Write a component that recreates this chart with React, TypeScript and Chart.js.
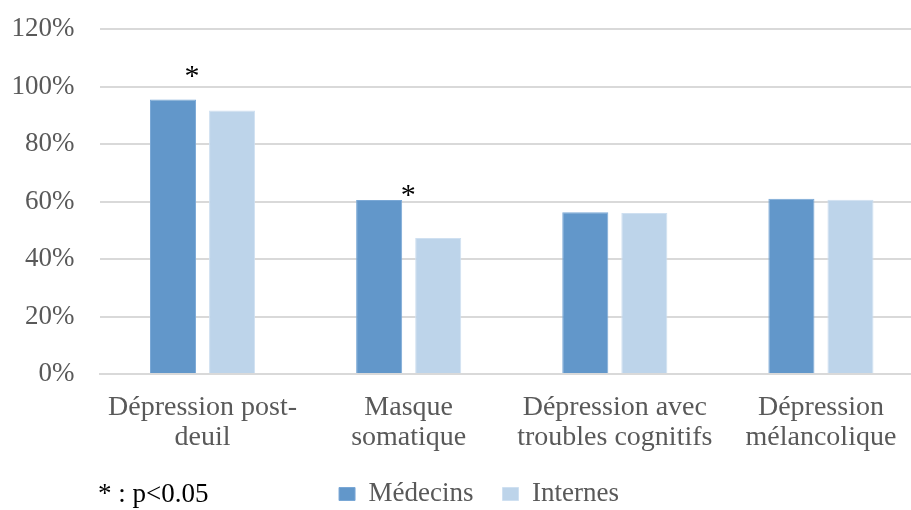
import React, { useEffect, useRef } from "react";
import { Chart, registerables } from "chart.js";

Chart.register(...registerables);

const categories: string[][] = [
  ["Dépression post-", "deuil"],
  ["Masque", "somatique"],
  ["Dépression avec", "troubles cognitifs"],
  ["Dépression", "mélancolique"],
];
const medecins: number[] = [95.5, 60.5, 56.3, 61];
const internes: number[] = [91.7, 47.3, 56, 60.6];
// asterisk markers (height in % where the star sits), null = no star
const significance: (number | null)[] = [105.1, 63.8, null, null];
const yTicks: number[] = [0, 20, 40, 60, 80, 100, 120];
const footnote = "* : p<0.05";

const FONT = "'Liberation Serif', 'Times New Roman', serif";
const GRAY = "#595959";
const STAR_DX = [19, 29, 0, 0];

const starsPlugin = {
  id: "stars",
  afterDatasetsDraw(chart: any) {
    const meta = chart.getDatasetMeta(0);
    const y = chart.scales.y;
    const ctx = chart.ctx;
    ctx.save();
    ctx.fillStyle = "#000";
    ctx.font = `30px ${FONT}`;
    ctx.textAlign = "center";
    ctx.textBaseline = "middle";
    significance.forEach((v, i) => {
      if (v == null) return;
      const bar = meta.data[i];
      ctx.fillText("*", bar.x + STAR_DX[i], y.getPixelForValue(v) + 5.5);
    });
    ctx.restore();
  },
};

const footnotePlugin = {
  id: "footnote",
  afterLayout(chart: any) {
    const lg = chart.legend;
    if (lg) {
      const dx = 17;
      const dy = -20.5;
      lg.left += dx;
      lg.right += dx;
      lg.top += dy;
      lg.bottom += dy;
    }
  },
  afterDraw(chart: any) {
    const ctx = chart.ctx;
    ctx.save();
    ctx.fillStyle = "#000";
    ctx.font = `27px ${FONT}`;
    ctx.textAlign = "left";
    ctx.textBaseline = "alphabetic";
    ctx.fillText(footnote, 98, 502);
    ctx.restore();
  },
};

export default function App() {
  const ref = useRef<HTMLCanvasElement>(null);
  useEffect(() => {
    if (!ref.current) return;
    const chart = new Chart(ref.current, {
      type: "bar",
      data: {
        labels: categories,
        datasets: [
          {
            label: "Médecins",
            data: medecins,
            backgroundColor: "#6297CA",
            borderColor: "#7AA8D6",
            borderWidth: 1,
          },
          {
            label: "Internes",
            data: internes,
            backgroundColor: "#BDD4EA",
            borderColor: "#CFE0F1",
            borderWidth: 1,
          },
        ],
      },
      options: {
        responsive: false,
        animation: false,
        layout: { padding: { left: 0, right: 0, top: 29, bottom: -28 } },
        datasets: {
          bar: { categoryPercentage: 0.573, barPercentage: 0.78 },
        },
        plugins: {
          legend: {
            position: "bottom",
            labels: {
              font: { family: FONT, size: 27 },
              color: GRAY,
              boxWidth: 16,
              boxHeight: 13,
              padding: 29,
            },
          },
          tooltip: { enabled: false },
        },
        scales: {
          x: {
            grid: { display: false, drawTicks: false },
            border: { display: true, color: "#D9D9D9", width: 2 },
            ticks: {
              font: { family: FONT, size: 28, lineHeight: 1.07 },
              color: GRAY,
              padding: 19,
              maxRotation: 0,
              autoSkip: false,
            },
          },
          y: {
            min: 0,
            max: 120,
            afterFit: (s: any) => {
              s.width = 99.5;
            },
            afterBuildTicks: (s: any) => {
              s.ticks = yTicks.map((v) => ({ value: v }));
            },
            grid: {
              color: "#D9D9D9",
              lineWidth: 2,
              drawTicks: true,
              tickLength: 16,
              tickColor: "rgba(0,0,0,0)",
            },
            border: { display: false },
            ticks: {
              font: { family: FONT, size: 27 },
              color: GRAY,
              padding: 9,
              callback: (v: any) => `${v}%`,
            },
          },
        },
      },
      plugins: [starsPlugin, footnotePlugin],
    });
    return () => chart.destroy();
  }, []);
  return (
    <div style={{ position: "fixed", left: 0, top: 0, width: 911, height: 510, background: "#fff", overflow: "hidden" }}>
      <canvas ref={ref} width={924} height={510} />
    </div>
  );
}
